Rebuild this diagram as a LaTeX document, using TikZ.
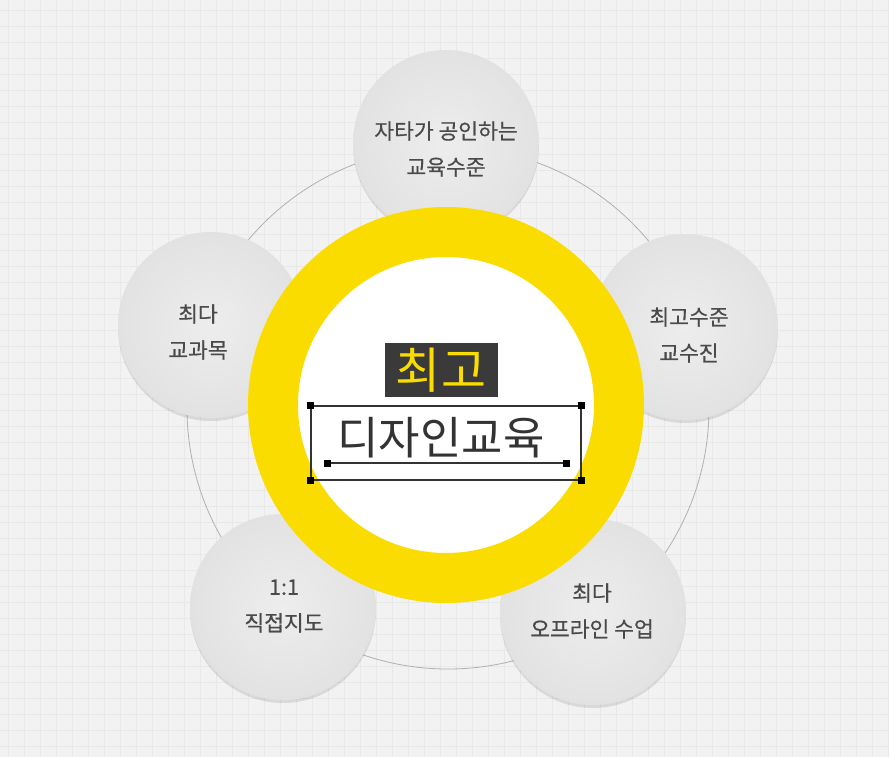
\documentclass[tikz,border=0pt]{standalone}
\usepackage{fontspec}
\setmainfont{Noto Sans CJK KR}
\newfontfamily\satfont{Noto Sans CJK KR}[FakeBold=0.5]
\usepackage{tikz}
\usetikzlibrary{shadows,positioning}

\definecolor{bgpaper}{HTML}{F2F2F2}
\definecolor{gridgray}{HTML}{E8E8E8}
\definecolor{ringyellow}{HTML}{FADC00}
\definecolor{satinner}{HTML}{EDEDED}
\definecolor{satouter}{HTML}{E2E2E2}
\definecolor{orbitgray}{HTML}{B0B0B0}
\definecolor{textgray}{HTML}{4A4A4A}
\definecolor{darkbox}{HTML}{3A3A3A}
\definecolor{titlegray}{HTML}{333333}

\tikzset{
  satellite/.style={circle, minimum size=186pt, inner sep=0pt, inner color=satinner, outer color=satouter,
    drop shadow={shadow xshift=0pt, shadow yshift=-3pt, opacity=0.10, fill=black}},
  sattext/.style={align=center, text=textgray, inner sep=0pt, font=\satfont\fontsize{21.5}{36}\selectfont},
  ring/.style={circle, minimum size=346pt, inner sep=0pt, draw=ringyellow, line width=50pt, fill=white,
    drop shadow={shadow xshift=0pt, shadow yshift=-3pt, opacity=0.08, fill=black}},
  handle/.style={fill=black, minimum size=7pt, inner sep=0pt},
  selline/.style={draw=titlegray, line width=1.2pt}
}

\begin{document}
\begin{tikzpicture}[x=1pt,y=-1pt]
% Fondo cuadriculado
\useasboundingbox (0,0) rectangle (889,757);
\fill[bgpaper] (0,0) rectangle (889,757);
\foreach \x in {8,24,...,888} \draw[gridgray, line width=0.7pt] (\x,0) -- (\x,757);
\foreach \y in {10,26,...,756} \draw[gridgray, line width=0.7pt] (0,\y) -- (889,\y);

% Órbita de los cinco círculos
\node[circle, draw=orbitgray, line width=0.8pt, minimum size=522pt, inner sep=0pt] (orbit) at (448,408) {};

% Círculos satélite
\node[satellite] (top)   at (446,143) {};
\node[satellite] (left)  at (211,325) {};
\node[satellite] (right) at (685,327) {};
\node[satellite] (botL)  at (283,607) {};
\node[satellite] (botR)  at (593,612) {};

% Textos de los satélites
\node[sattext] (topTxt)   at (446,149) {자타가 공인하는\\교육수준};
\node[sattext] (leftTxt)  at (198,332) {최다\\교과목};
\node[sattext] (rightTxt) at (689,335) {최고수준\\교수진};
\node[sattext] (botLTxt)  at (284,606) {1:1\\직접지도};
\node[sattext] (botRTxt)  at (592,611) {최다\\오프라인 수업};

% Anillo amarillo central
\node[ring] (core) at (446,405) {};

% Etiqueta superior
\node[fill=darkbox, text=ringyellow, minimum width=113pt, minimum height=54pt, inner sep=0pt,
      font=\fontsize{49}{49}\selectfont] (best) at (441,370) {최고};

% Caja de selección con el título
\node[selline, minimum width=270pt, minimum height=74pt, inner sep=0pt] (selbox) at (446,443) {};
\node[text=titlegray, font=\fontsize{45}{45}\selectfont, inner sep=0pt] (title) at (441,438) {디자인교육};
\node[handle] (hNW) at (selbox.north west) {};
\node[handle] (hNE) at (selbox.north east) {};
\node[handle] (hSW) at (selbox.south west) {};
\node[handle] (hSE) at (selbox.south east) {};
\coordinate (baseL) at (327,463);
\coordinate (baseR) at (566,463);
\draw[selline] (baseL) -- (baseR);
\node[handle] (hBL) at (baseL) {};
\node[handle] (hBR) at (baseR) {};
\end{tikzpicture}
\end{document}
